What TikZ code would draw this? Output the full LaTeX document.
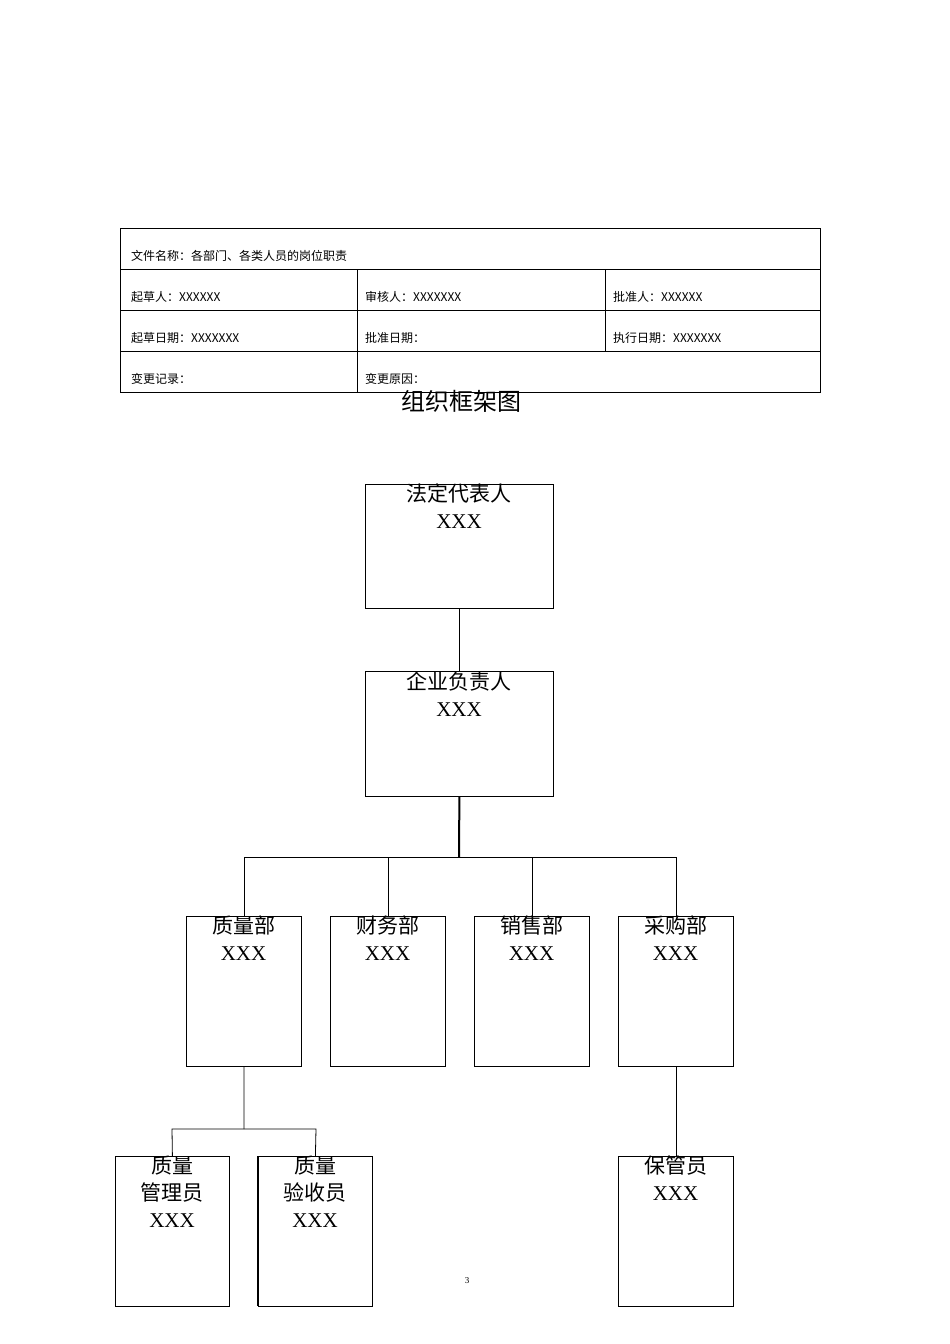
\documentclass[tikz,border=0pt]{standalone}
\usepackage{fontspec}
\setmainfont{Liberation Serif}
\newfontfamily\cjk{Noto Sans CJK SC}
\begin{document}
\begin{tikzpicture}[x=1pt,y=-1pt,
  bx/.style={draw,line width=0.8pt,anchor=north west,inner sep=0},
  tc/.style={anchor=west,font=\cjk\fontsize{12}{14}\selectfont,inner sep=0},
  bt/.style={anchor=north,align=center,font=\fontsize{21}{27}\selectfont,inner sep=0},
  ln/.style={line width=0.8pt}]
\useasboundingbox (0,0) rectangle (950,1344);
% table
\draw[ln] (120,228) rectangle (820,392);
\foreach \y in {269,310,351} \draw[ln] (120,\y)--(820,\y);
\draw[ln] (357,269)--(357,392);
\draw[ln] (605,269)--(605,351);
\node[tc] at (131,256) {文件名称：各部门、各类人员的岗位职责};
\node[tc] at (131,297) {起草人：XXXXXX};
\node[tc] at (365,297) {审核人：XXXXXXX};
\node[tc] at (613,297) {批准人：XXXXXX};
\node[tc] at (131,338) {起草日期：XXXXXXX};
\node[tc] at (365,338) {批准日期：};
\node[tc] at (613,338) {执行日期：XXXXXXX};
\node[tc] at (131,379) {变更记录：};
\node[tc] at (365,379) {变更原因：};
\node[font=\cjk\fontsize{24}{28}\selectfont,inner sep=0] (title) at (461,401) {组织框架图};
% boxes
\node[bx,minimum width=188,minimum height=124] (a) at (365,484) {};
\node[bt] at (459,484) {{\cjk 法定代表人}\\XXX};
\node[bx,minimum width=188,minimum height=125] (b) at (365,671) {};
\node[bt] at (459,671) {{\cjk 企业负责人}\\XXX};
\draw[ln] (a.south)--(b.north);
\coordinate (hub) at (459,857);
\draw[line width=2pt] (b.south)--(hub);
\draw[ln] (244,857)--(676,857);
\foreach \n/\x/\t in {q/186/质量部,c/330/财务部,s/474/销售部,p/618/采购部}{
  \node[bx,minimum width=115,minimum height=150] (\n) at (\x,916) {};
  \node[bt] at (\x+57.5,916) {{\cjk \t}\\XXX};
  \draw[ln] (\n.north)--++(0,-59);
}
\node[bx,minimum width=114,minimum height=150] (q1) at (115,1156) {};
\node[bt] at (172,1156) {{\cjk 质量}\\{\cjk 管理员}\\XXX};
\node[bx,minimum width=114,minimum height=150] (q2) at (258,1156) {};
\draw[line width=1.6pt] (258,1156)--(258,1306);
\node[bt] at (315,1156) {{\cjk 质量}\\{\cjk 验收员}\\XXX};
\node[bx,minimum width=115,minimum height=150] (p1) at (618,1156) {};
\node[bt] at (675.5,1156) {{\cjk 保管员}\\XXX};
\coordinate (qj) at (244,1129);
\draw[ln] (q.south)--(qj);
\draw[ln] (q1.north)--(172,1129)--(316,1129)--(q2.north);
\draw[ln] (p.south)--(p1.north);
\node[font=\fontsize{9}{10}\selectfont] (pg) at (467,1281) {3};
\end{tikzpicture}
\end{document}
